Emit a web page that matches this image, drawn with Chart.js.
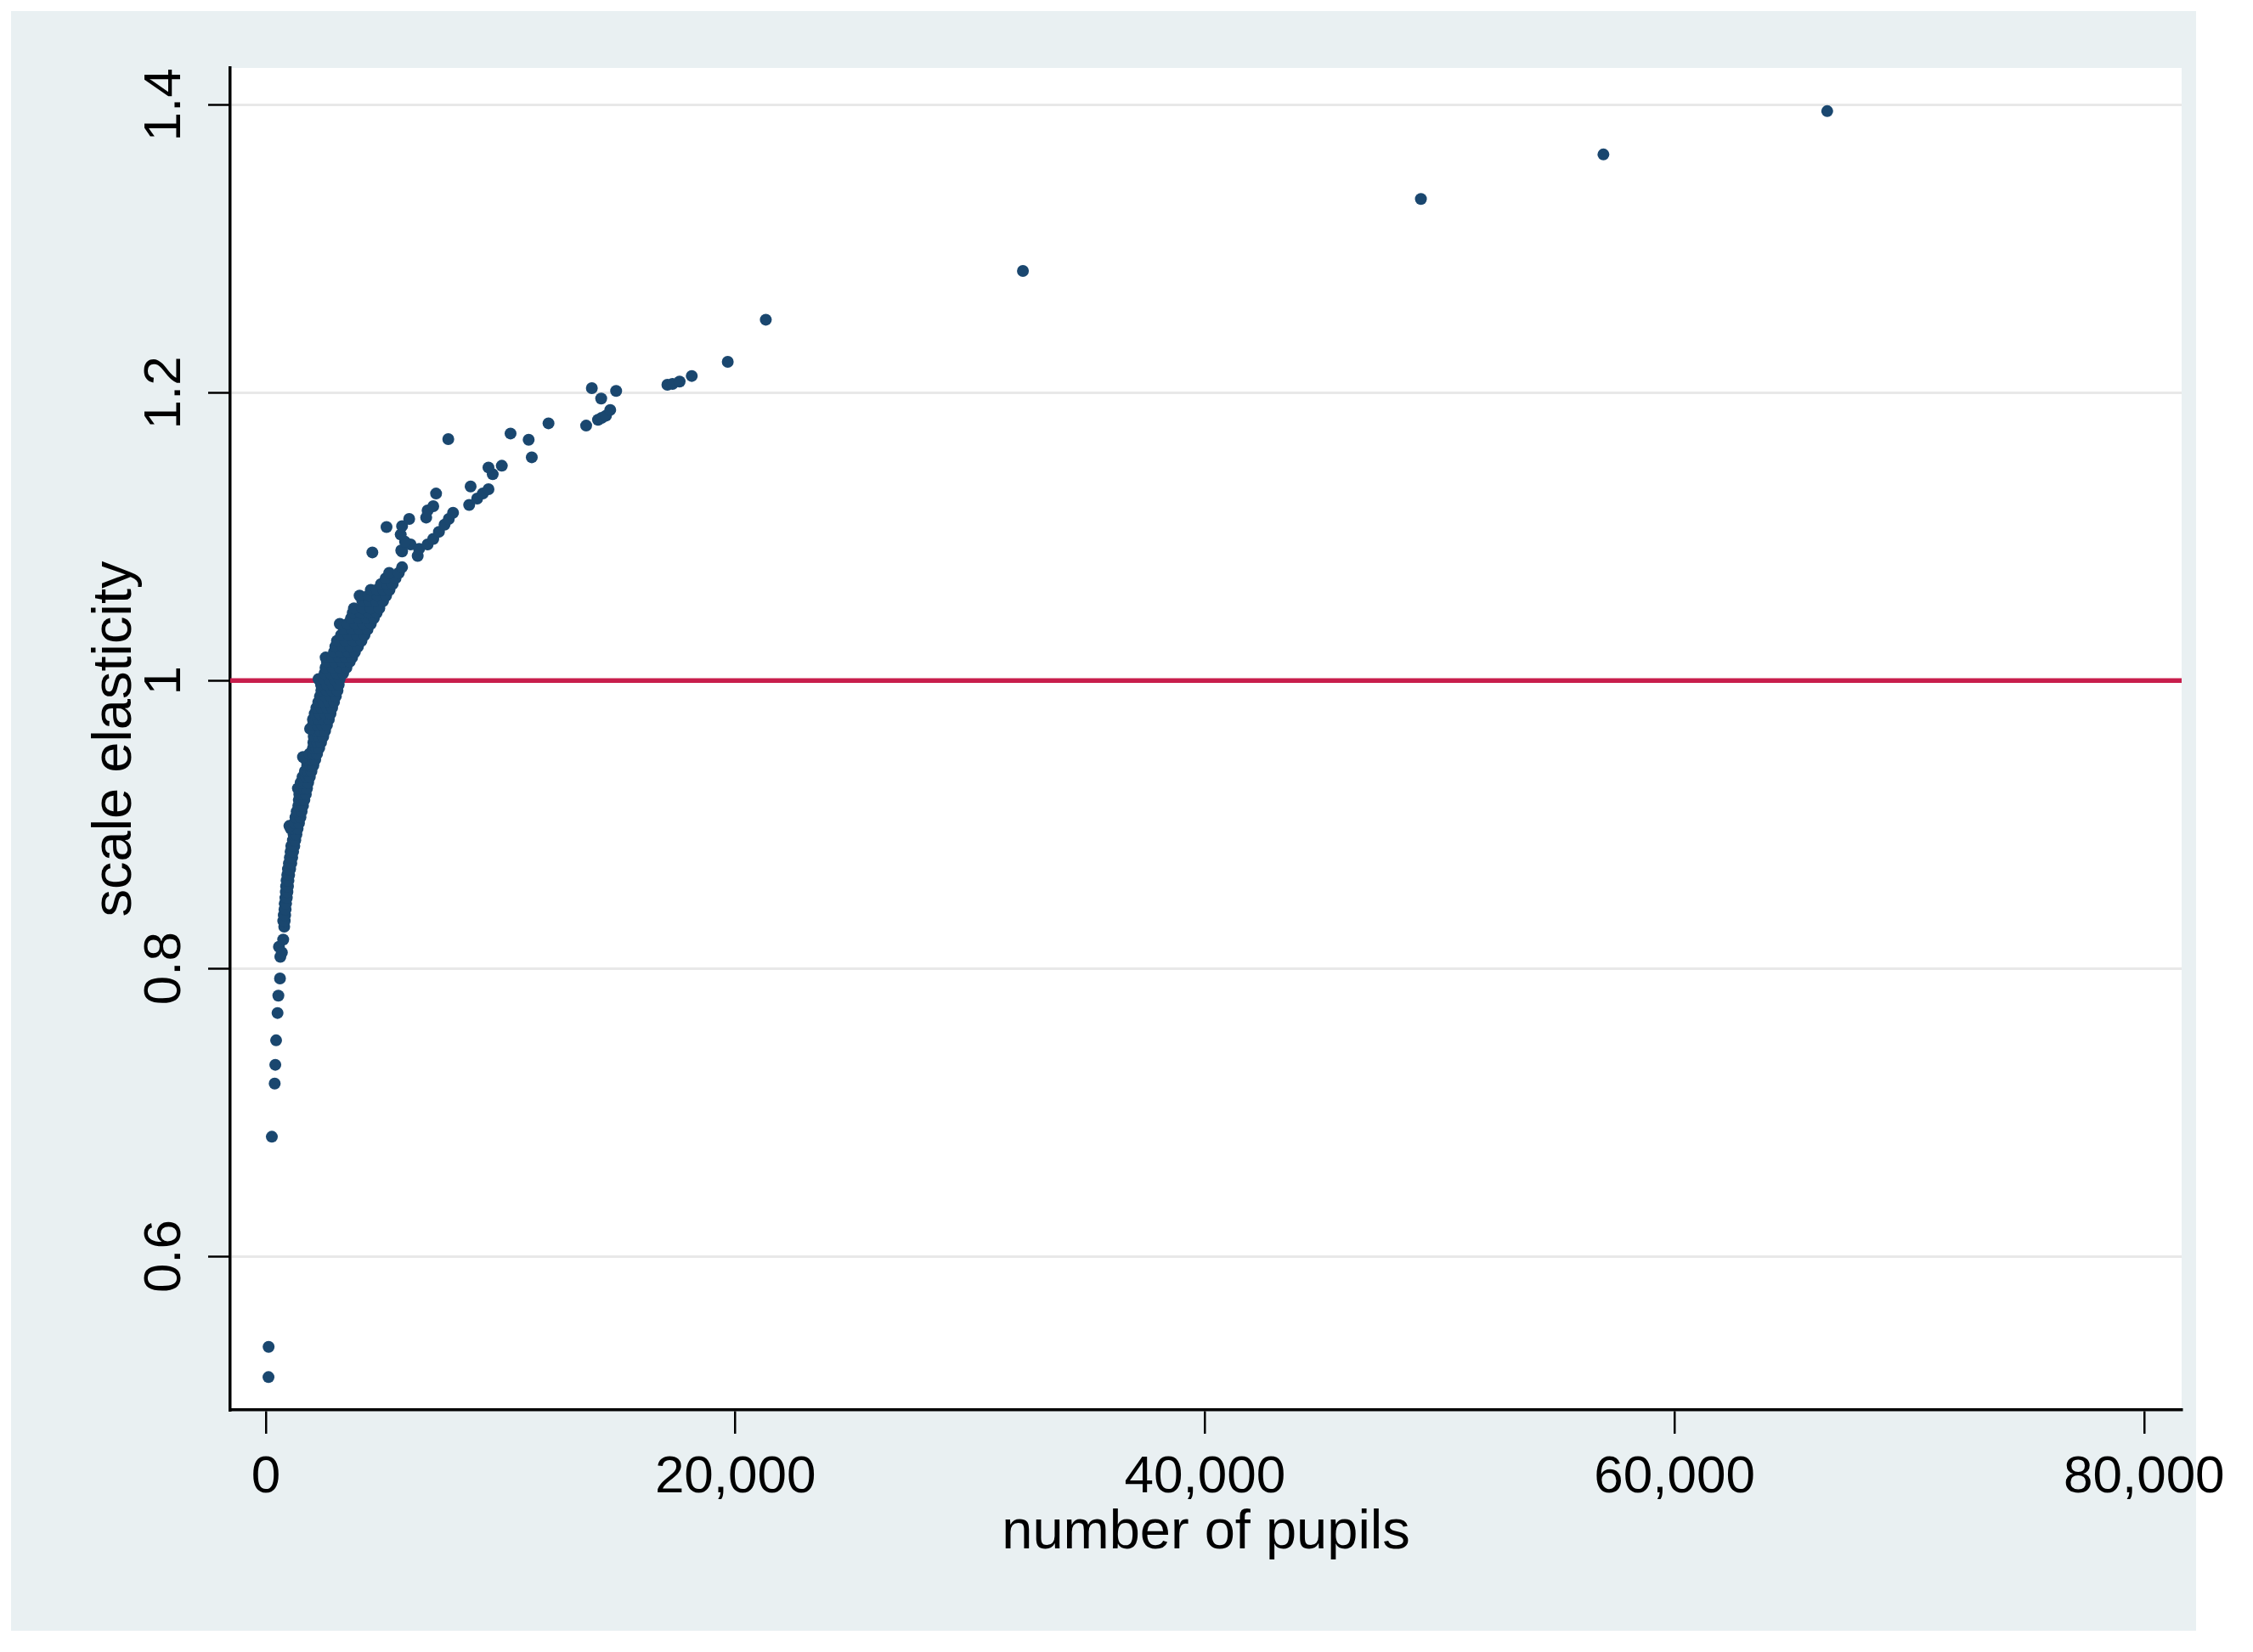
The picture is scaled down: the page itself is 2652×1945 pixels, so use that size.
<!DOCTYPE html>
<html>
<head>
<meta charset="utf-8">
<script src="https://cdn.jsdelivr.net/npm/chart.js@4.4.1/dist/chart.umd.min.js"></script>
<style>
html,body{margin:0;padding:0;background:#ffffff;}
canvas{display:block;}
</style>
</head>
<body>
<canvas id="c" width="2652" height="1945"></canvas>
<script>
// ---------- data ----------
// smallest districts (sparse tail at the bottom left)
const tailPupils     = [110, 115, 253, 374, 400, 434, 495, 530, 600, 615, 555, 736, 680];
const tailElasticity = [0.516, 0.537, 0.683, 0.720, 0.733, 0.750, 0.769, 0.781, 0.793, 0.808, 0.815, 0.820, 0.811];

// dense band: elasticity level of each row and the pupil counts seen on that row
const bandLevels = [
  0.8290, 0.8330, 0.8370, 0.8410, 0.8450, 0.8490, 0.8530, 0.8570, 0.8610, 0.8650,
  0.8690, 0.8730, 0.8770, 0.8810, 0.8850, 0.8890, 0.8930, 0.8970, 0.8990, 0.9010,
  0.9050, 0.9090, 0.9130, 0.9170, 0.9210, 0.9250, 0.9290, 0.9330, 0.9370, 0.9410,
  0.9450, 0.9469, 0.9490, 0.9530, 0.9570, 0.9610, 0.9650, 0.9665, 0.9690, 0.9730,
  0.9770, 0.9810, 0.9850, 0.9890, 0.9930, 0.9970, 1.0010, 1.0050, 1.0090, 1.0130,
  1.0160, 1.0197, 1.0236, 1.0276, 1.0315, 1.0355, 1.0394, 1.0433, 1.0470, 1.0502,
  1.0551, 1.0590, 1.0630, 1.0670, 1.0710, 1.0748, 1.0787
];
const bandPupilsByLevel = [
  [780], [740, 800], [760, 820], [790, 840], [800, 860], [830, 890], [850, 915], [860, 940], [880, 960], [910, 990],
  [940, 1030], [980, 1080], [1020, 1120], [1050, 1160], [1080, 1210], [1150, 1250], [1180, 1300], [1060, 1200, 1350], [1001], [1220, 1410],
  [1260, 1470], [1310, 1520], [1380, 1580], [1400, 1520, 1640], [1420, 1560, 1700], [1363, 1500, 1630, 1750], [1480, 1640, 1800], [1560, 1720, 1870], [1660, 1800, 1940], [1761, 1900, 2020],
  [1700, 1900, 2100], [1580], [1850, 2020, 2180], [2002, 2140, 2270], [2020, 2190, 2350], [2038, 2240, 2440], [2100, 2310, 2520], [1881], [2000, 2200, 2400, 2600], [2002, 2230, 2450, 2680],
  [2080, 2300, 2520, 2750], [2150, 2370, 2600, 2820], [2230, 2450, 2680, 2900], [2300, 2530, 2760, 2980], [2360, 2590, 2820, 3050], [2350, 2600, 2850, 3100], [2243, 2470, 2700, 2920, 3140], [2500, 2760, 3020, 3290], [2540, 2840, 3140, 3430], [2600, 2930, 3250, 3570],
  [2544, 2830, 3110, 3390, 3672], [2900, 3200, 3500, 3790], [2960, 3280, 3600, 3920], [3027, 3380, 3720, 4070], [3200, 3530, 3870, 4200], [3322, 3660, 4000, 4330], [3148, 3480, 3810, 4140, 4468], [3624, 3950, 4280, 4600], [3700, 4040, 4380, 4720], [3750, 4110, 4470, 4830],
  [4106, 4400, 4700, 4990], [3992, 4370, 4750, 5120], [4468, 4730, 5000, 5264], [4900, 5150, 5400], [5100, 5520], [5252, 5662], [5800]
];

// larger districts (scattered points above the band)
const upperPupils = [4534, 5800, 6162, 6465, 6524, 5764, 5926, 5138, 5742, 5800,
  6103, 6886, 7128, 7370, 7609, 7790, 7971, 6827, 6886, 7128,
  7248, 8658, 8998, 9238, 9480, 8720, 9661, 9480, 10048, 11325,
  11192, 7768, 10420, 12037, 13641, 14147, 14300, 14485, 14666, 14281,
  14918, 13883, 17100, 17320, 17621, 18139, 19672, 21293, 32245, 49197,
  56970, 66503];
const upperElasticity = [1.0890, 1.0896, 1.0945, 1.0866, 1.0915, 1.0904, 1.0964, 1.1066, 1.1014, 1.1073,
  1.1122, 1.0945, 1.0984, 1.1033, 1.1083, 1.1122, 1.1165, 1.1132, 1.1181, 1.1211,
  1.1299, 1.1220, 1.1264, 1.1299, 1.1329, 1.1348, 1.1433, 1.1480, 1.1492, 1.1551,
  1.1673, 1.1677, 1.1716, 1.1787, 1.1771, 1.1811, 1.1825, 1.1840, 1.1880, 1.1959,
  1.2012, 1.2031, 1.2055, 1.2061, 1.2077, 1.2116, 1.2214, 1.2507, 1.2846, 1.3346,
  1.3655, 1.3956];

// axes
const xTickValues = [0, 20000, 40000, 60000, 80000];
const yTickValues = [0.6, 0.8, 1, 1.2, 1.4];
const xRange = [-1520, 81600];
const yRange = [0.4932, 1.4256];
const referenceLevel = 1;

// ---------- build the point list ----------
const points = [];
tailPupils.forEach((x, i) => points.push({x: x, y: tailElasticity[i]}));
bandLevels.forEach((lvl, i) => bandPupilsByLevel[i].forEach(x => points.push({x: x, y: lvl})));
upperPupils.forEach((x, i) => points.push({x: x, y: upperElasticity[i]}));

const FONT = "'Liberation Sans', Arial, Helvetica, sans-serif";
const NAVY = '#1a476f';

const backgroundPlugin = {
  id: 'stataBackground',
  beforeDraw(chart) {
    const ctx = chart.ctx;
    const a = chart.chartArea;
    ctx.save();
    ctx.fillStyle = '#ffffff';
    ctx.fillRect(0, 0, chart.width, chart.height);
    ctx.fillStyle = '#e9f0f2';
    ctx.fillRect(13, 13, 2572, 1907);
    ctx.fillStyle = '#ffffff';
    ctx.fillRect(a.left, a.top, a.right - a.left, a.bottom - a.top);
    ctx.restore();
  }
};

new Chart(document.getElementById('c'), {
  type: 'scatter',
  data: {
    datasets: [
      {
        label: 'scale elasticity',
        data: points,
        pointRadius: 7,
        pointBorderWidth: 0,
        pointBackgroundColor: NAVY,
        backgroundColor: NAVY,
        showLine: false
      },
      {
        label: 'reference',
        data: [{x: xRange[0], y: referenceLevel}, {x: xRange[1], y: referenceLevel}],
        showLine: true,
        borderColor: '#c81e4c',
        borderWidth: 5.5,
        pointRadius: 0,
        fill: false
      }
    ]
  },
  options: {
    responsive: false,
    animation: false,
    devicePixelRatio: 1,
    events: [],
    layout: {padding: {left: 0, right: 84, top: 80, bottom: 0}},
    plugins: {legend: {display: false}, tooltip: {enabled: false}},
    scales: {
      x: {
        type: 'linear',
        min: xRange[0],
        max: xRange[1],
        afterBuildTicks: s => { s.ticks = xTickValues.map(v => ({value: v})); },
        afterFit: s => { s.height = 285; },
        ticks: {
          callback: v => Number(v).toLocaleString('en-US'),
          font: {family: FONT, size: 62},
          color: '#000000',
          padding: 15,
          minRotation: 0,
          maxRotation: 0,
          autoSkip: false
        },
        grid: {
          display: true,
          drawOnChartArea: false,
          drawTicks: true,
          tickLength: 28,
          tickColor: '#000000',
          tickWidth: 2.5,
          color: '#000000',
          lineWidth: 2.5
        },
        border: {display: true, color: '#000000', width: 3.5},
        title: {
          display: true,
          text: 'number of pupils',
          font: {family: FONT, size: 65},
          color: '#000000',
          padding: {top: 0, bottom: 101}
        }
      },
      y: {
        type: 'linear',
        min: yRange[0],
        max: yRange[1],
        afterBuildTicks: s => { s.ticks = yTickValues.map(v => ({value: v})); },
        afterFit: s => { s.width = 271; },
        ticks: {
          callback: v => String(v),
          font: {family: FONT, size: 62},
          color: '#000000',
          padding: 7,
          minRotation: 90,
          maxRotation: 90,
          crossAlign: 'center',
          autoSkip: false
        },
        grid: {
          display: true,
          drawOnChartArea: true,
          drawTicks: true,
          tickLength: 26,
          tickColor: '#000000',
          tickWidth: 2.5,
          color: '#e8e8e8',
          lineWidth: 3
        },
        border: {display: true, color: '#000000', width: 3.5},
        title: {
          display: true,
          text: 'scale elasticity',
          font: {family: FONT, size: 65},
          color: '#000000',
          padding: {top: 97, bottom: 0}
        }
      }
    }
  },
  plugins: [backgroundPlugin]
});
</script>
</body>
</html>
